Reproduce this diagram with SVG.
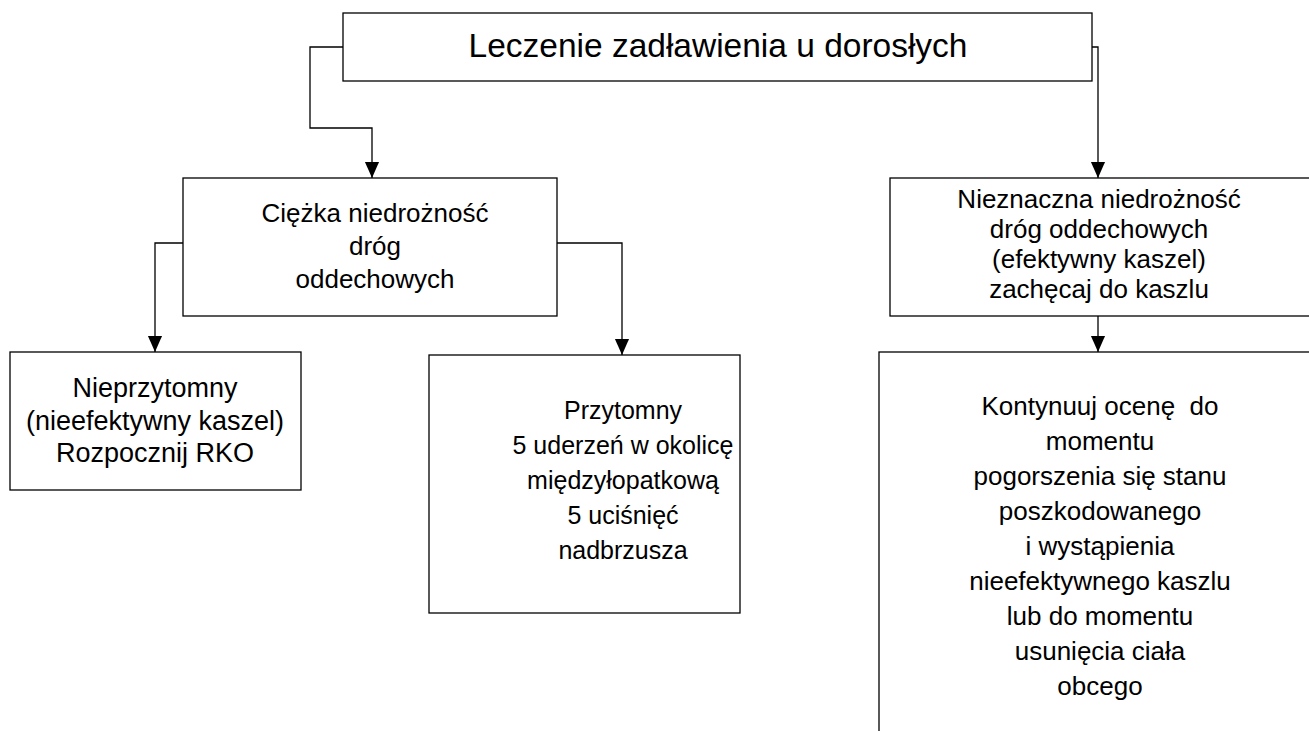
<svg xmlns="http://www.w3.org/2000/svg" width="1309" height="731" viewBox="0 0 1309 731">
<defs>
<marker id="arr" viewBox="0 0 10 10" refX="10" refY="5" markerWidth="16" markerHeight="16" markerUnits="userSpaceOnUse" orient="auto"><path d="M0,0.6 L10,5 L0,9.4 Z" fill="#000"/></marker>
<style>
rect{fill:#fff;stroke:#000;stroke-width:1.3}
.c{fill:none;stroke:#000;stroke-width:1.3;marker-end:url(#arr)}
text{font-family:"Liberation Sans",Arial,sans-serif;fill:#000;text-anchor:middle}
.n{font-size:26px}
.m{font-size:27px}
.w{font-size:26px}
.p{font-size:25px}
</style>
</defs>
<rect width="1309" height="731" style="fill:#fff;stroke:none"/>
<g id="connectors">
<path class="c" d="M343,47 H310 V128 H372 V178"/>
<path class="c" d="M1092,47 H1098 V178"/>
<path class="c" d="M183,243 H155 V352"/>
<path class="c" d="M557,243 H622 V355"/>
<path class="c" d="M1098,316 V352"/>
</g>
<g id="n-root">
<rect x="343" y="13" width="749" height="68"/>
<text x="718" y="57" style="font-size:33.5px" textLength="499" lengthAdjust="spacingAndGlyphs">Leczenie zadławienia u dorosłych</text>
</g>
<g id="n-ciezka">
<rect x="183" y="178" width="374" height="138"/>
<text class="n" x="375" y="222">Ciężka niedrożność</text>
<text class="n" x="375" y="255">dróg</text>
<text class="n" x="375" y="288">oddechowych</text>
</g>
<g id="n-nieprzytomny">
<rect x="10" y="352" width="291" height="138"/>
<text class="m" x="155" y="397">Nieprzytomny</text>
<text class="m" x="155" y="430">(nieefektywny kaszel)</text>
<text class="m" x="155" y="462">Rozpocznij RKO</text>
</g>
<g id="n-przytomny">
<rect x="429" y="355" width="311" height="258"/>
<text class="p" x="623" y="419">Przytomny</text>
<text class="p" x="623" y="454">5 uderzeń w okolicę</text>
<text class="p" x="623" y="489">międzyłopatkową</text>
<text class="p" x="623" y="524">5 uciśnięć</text>
<text class="p" x="623" y="559">nadbrzusza</text>
</g>
<g id="n-nieznaczna">
<rect x="890" y="178" width="430" height="138"/>
<text class="w" x="1099" y="208">Nieznaczna niedrożność</text>
<text class="w" x="1099" y="238">dróg oddechowych</text>
<text class="w" x="1099" y="268">(efektywny kaszel)</text>
<text class="w" x="1099" y="298">zachęcaj do kaszlu</text>
</g>
<g id="n-kontynuuj">
<rect x="879" y="352" width="440" height="400"/>
<text class="w" x="1100" y="415" xml:space="preserve">Kontynuuj ocenę  do</text>
<text class="w" x="1100" y="450">momentu</text>
<text class="w" x="1100" y="485">pogorszenia się stanu</text>
<text class="w" x="1100" y="520">poszkodowanego</text>
<text class="w" x="1100" y="555">i wystąpienia</text>
<text class="w" x="1100" y="590">nieefektywnego kaszlu</text>
<text class="w" x="1100" y="625">lub do momentu</text>
<text class="w" x="1100" y="660">usunięcia ciała</text>
<text class="w" x="1100" y="695">obcego</text>
</g>
</svg>
